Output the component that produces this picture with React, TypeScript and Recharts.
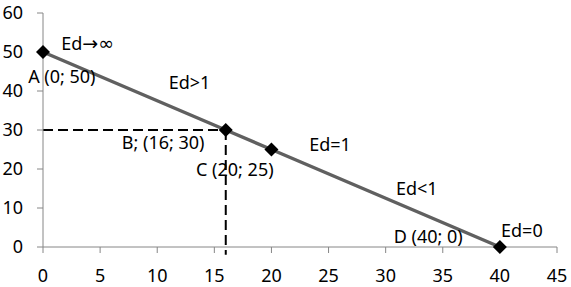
import { ComposedChart, Line, ReferenceDot, ReferenceLine, XAxis, YAxis } from "recharts";

// demand curve points
const pointX = [0, 16, 20, 40];
const pointY = [50, 30, 25, 0];

const xTicks = [0, 5, 10, 15, 20, 25, 30, 35, 40, 45];
const yTicks = [0, 10, 20, 30, 40, 50, 60];

// text annotations (left edge / vertical middle, in data units)
const noteText = ["Ed\u2192\u221E", "A (0; 50)", "Ed>1", "B; (16; 30)", "C (20; 25)", "Ed=1", "Ed<1", "D (40; 0)", "Ed=0"];
const noteX = [1.6, -1.3, 11.0, 6.9, 13.4, 23.3, 30.9, 30.7, 40.1];
const noteY = [52.3, 43.6, 42.1, 26.9, 19.8, 26.4, 15.0, 2.8, 4.3];

const FONT = "'Noto Sans', sans-serif";
const SYMBOL_FONT = "'DejaVu Sans', sans-serif";

const data = pointX.map((x, i) => ({ x, y: pointY[i] }));

const Diamond = (props: any) => {
    const { cx, cy } = props;
    if (cx == null || cy == null) return null;
    return (
        <polygon
            points={`${cx},${cy - 7} ${cx + 7},${cy} ${cx},${cy + 7} ${cx - 7},${cy}`}
            fill="#000"
        />
    );
};

// arrows and infinity look tiny in Noto Sans, so switch font for them
const splitSymbols = (text: string) =>
    text.split(/([\u2192\u221E]+)/).filter(Boolean).map((part, i) =>
        /[\u2192\u221E]/.test(part)
            ? <tspan key={i} fontFamily={SYMBOL_FONT} fontSize={19}>{part}</tspan>
            : <tspan key={i}>{part}</tspan>
    );

const noteLabel = (text: string) => (props: any) => {
    const vb = props.viewBox || {};
    return (
        <text x={vb.x} y={vb.y} dy="0.36em" fontSize={18} fontFamily={FONT} fill="#000" textAnchor="start">
            {splitSymbols(text)}
        </text>
    );
};

export default function App() {
    return (
        <div style={{ position: "absolute", left: 0, top: 0 }}>
            <ComposedChart
                width={571}
                height={287}
                data={data}
                margin={{ top: 13, right: 14, bottom: 0, left: 0 }}
            >
                <XAxis
                    dataKey="x"
                    type="number"
                    domain={[0, 45]}
                    ticks={xTicks}
                    interval={0}
                    height={40}
                    stroke="#868686"
                    tickSize={6}
                    tickMargin={16}
                    tick={{ fill: "#000", fontSize: 18, fontFamily: FONT }}
                />
                <YAxis
                    type="number"
                    domain={[0, 60]}
                    ticks={yTicks}
                    interval={0}
                    width={43}
                    stroke="#868686"
                    tickSize={6}
                    tickMargin={14}
                    tick={{ fill: "#000", fontSize: 18, fontFamily: FONT }}
                />
                <ReferenceLine
                    segment={[{ x: 0, y: 30 }, { x: 16, y: 30 }]}
                    stroke="#000"
                    strokeWidth={2}
                    strokeDasharray="10 5"
                    ifOverflow="visible"
                />
                <ReferenceLine
                    segment={[{ x: 16, y: 30 }, { x: 16, y: -2 }]}
                    stroke="#000"
                    strokeWidth={2}
                    strokeDasharray="10 5"
                    ifOverflow="visible"
                />
                <Line
                    dataKey="y"
                    stroke="#606060"
                    strokeWidth={3.5}
                    dot={<Diamond />}
                    activeDot={false}
                    isAnimationActive={false}
                />
                {noteText.map((t, i) => (
                    <ReferenceDot
                        key={t}
                        x={noteX[i]}
                        y={noteY[i]}
                        r={0}
                        fill="none"
                        stroke="none"
                        ifOverflow="visible"
                        label={noteLabel(t)}
                    />
                ))}
            </ComposedChart>
        </div>
    );
}
